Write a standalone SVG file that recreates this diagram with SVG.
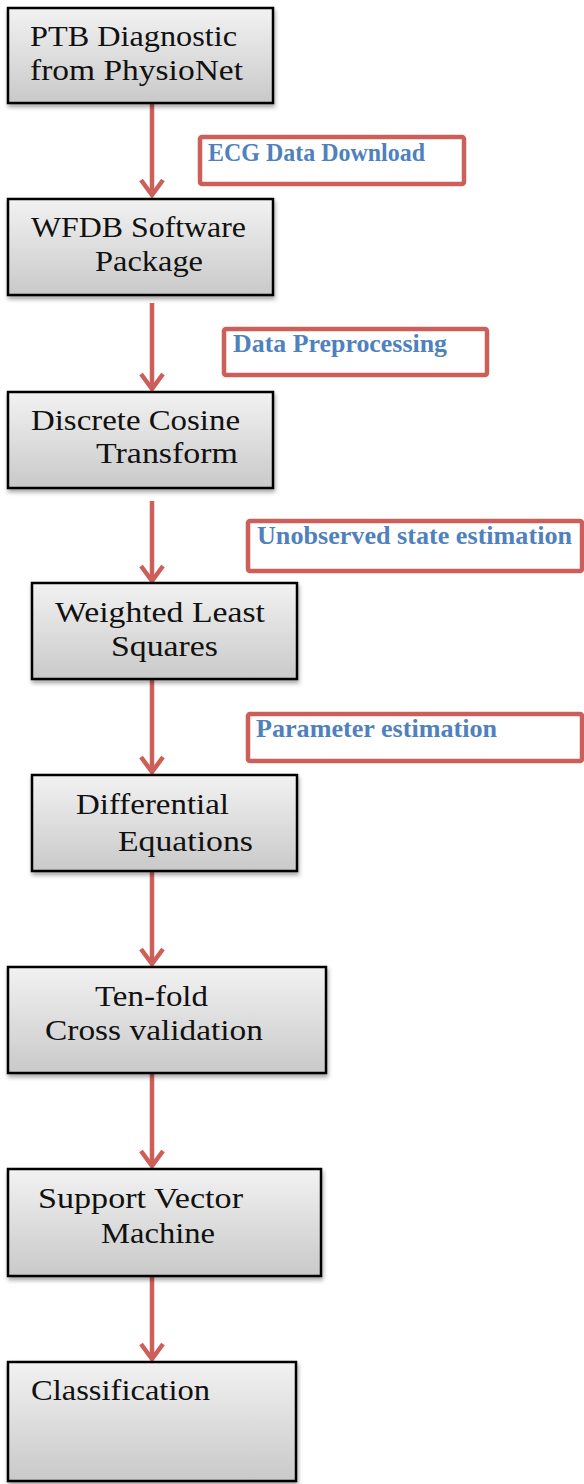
<svg xmlns="http://www.w3.org/2000/svg" width="584" height="1484" viewBox="0 0 584 1484">
<style>
.box{fill:url(#g);stroke:#000;stroke-width:2.5;filter:url(#sh)}
.t{font-family:"Liberation Serif","Times New Roman",serif;font-size:29.5px;fill:#111}
.lb{fill:#fff;stroke:#cd5f5a;stroke-width:4.5}
.lt{font-family:"Liberation Serif","Times New Roman",serif;font-size:25px;font-weight:bold;fill:#4f81bd}
.ar{stroke:#cd5f5a;stroke-width:4.5;fill:none}
.hd{stroke:#cd5f5a;stroke-width:4.5;fill:none;stroke-linejoin:miter}
</style>
<defs>
<linearGradient id="g" x1="0" y1="0" x2="0" y2="1">
<stop offset="0" stop-color="#f2f2f2"/>
<stop offset="1" stop-color="#c9c9c9"/>
</linearGradient>
<filter id="sh" x="-10%" y="-10%" width="125%" height="130%">
<feDropShadow dx="1" dy="3" stdDeviation="2" flood-color="#000" flood-opacity="0.35"/>
</filter>
</defs>
<g id="connectors">
<line class="ar" x1="152" y1="103" x2="152" y2="195"/><path class="hd" d="M141,180 L152,195 L163,180"/>
<line class="ar" x1="152" y1="303" x2="152" y2="389"/><path class="hd" d="M141,374 L152,389 L163,374"/>
<line class="ar" x1="152" y1="501" x2="152" y2="581"/><path class="hd" d="M141,566 L152,581 L163,566"/>
<line class="ar" x1="152" y1="679" x2="152" y2="772"/><path class="hd" d="M141,757 L152,772 L163,757"/>
<line class="ar" x1="152" y1="871" x2="152" y2="964"/><path class="hd" d="M141,949 L152,964 L163,949"/>
<line class="ar" x1="152" y1="1073" x2="152" y2="1166"/><path class="hd" d="M141,1151 L152,1166 L163,1151"/>
<line class="ar" x1="152" y1="1266" x2="152" y2="1359"/><path class="hd" d="M141,1344 L152,1359 L163,1344"/>
</g>
<g id="label1"><rect class="lb" x="200" y="137" width="264" height="47" rx="2"/><text class="lt" x="208" y="161" textLength="217" lengthAdjust="spacingAndGlyphs">ECG Data Download</text></g>
<g id="label2"><rect class="lb" x="224" y="329" width="263" height="46" rx="2"/><text class="lt" x="233" y="352" textLength="214" lengthAdjust="spacingAndGlyphs">Data Preprocessing</text></g>
<g id="label3"><rect class="lb" x="248" y="521" width="334" height="50" rx="2"/><text class="lt" x="257" y="544" textLength="315" lengthAdjust="spacingAndGlyphs">Unobserved state estimation</text></g>
<g id="label4"><rect class="lb" x="248" y="714" width="334" height="47" rx="2"/><text class="lt" x="256" y="737" textLength="241" lengthAdjust="spacingAndGlyphs">Parameter estimation</text></g>
<g id="n1"><rect class="box" x="8" y="8" width="265" height="95"/>
<text class="t" x="30" y="46" textLength="207" lengthAdjust="spacingAndGlyphs">PTB Diagnostic</text>
<text class="t" x="30" y="80" textLength="213" lengthAdjust="spacingAndGlyphs">from PhysioNet</text></g>
<g id="n2"><rect class="box" x="8" y="199" width="265" height="96"/>
<text class="t" x="31" y="237" textLength="215" lengthAdjust="spacingAndGlyphs">WFDB Software</text>
<text class="t" x="95" y="271" textLength="108" lengthAdjust="spacingAndGlyphs">Package</text></g>
<g id="n3"><rect class="box" x="8" y="392" width="265" height="96"/>
<text class="t" x="31" y="430" textLength="209" lengthAdjust="spacingAndGlyphs">Discrete Cosine</text>
<text class="t" x="96" y="463" textLength="142" lengthAdjust="spacingAndGlyphs">Transform</text></g>
<g id="n4"><rect class="box" x="32" y="583" width="265" height="96"/>
<text class="t" x="55" y="622" textLength="210" lengthAdjust="spacingAndGlyphs">Weighted Least</text>
<text class="t" x="111" y="656" textLength="107" lengthAdjust="spacingAndGlyphs">Squares</text></g>
<g id="n5"><rect class="box" x="32" y="775" width="265" height="96"/>
<text class="t" x="76" y="814" textLength="153" lengthAdjust="spacingAndGlyphs">Differential</text>
<text class="t" x="118" y="851" textLength="135" lengthAdjust="spacingAndGlyphs">Equations</text></g>
<g id="n6"><rect class="box" x="8" y="967" width="318" height="106"/>
<text class="t" x="95" y="1006" textLength="113" lengthAdjust="spacingAndGlyphs">Ten-fold</text>
<text class="t" x="45" y="1040" textLength="218" lengthAdjust="spacingAndGlyphs">Cross validation</text></g>
<g id="n7"><rect class="box" x="8" y="1169" width="313" height="107"/>
<text class="t" x="38" y="1208" textLength="205" lengthAdjust="spacingAndGlyphs">Support Vector</text>
<text class="t" x="101" y="1243" textLength="114" lengthAdjust="spacingAndGlyphs">Machine</text></g>
<g id="n8"><rect class="box" x="8" y="1362" width="288" height="119"/>
<text class="t" x="31" y="1400" textLength="179" lengthAdjust="spacingAndGlyphs">Classification</text></g>
</svg>
